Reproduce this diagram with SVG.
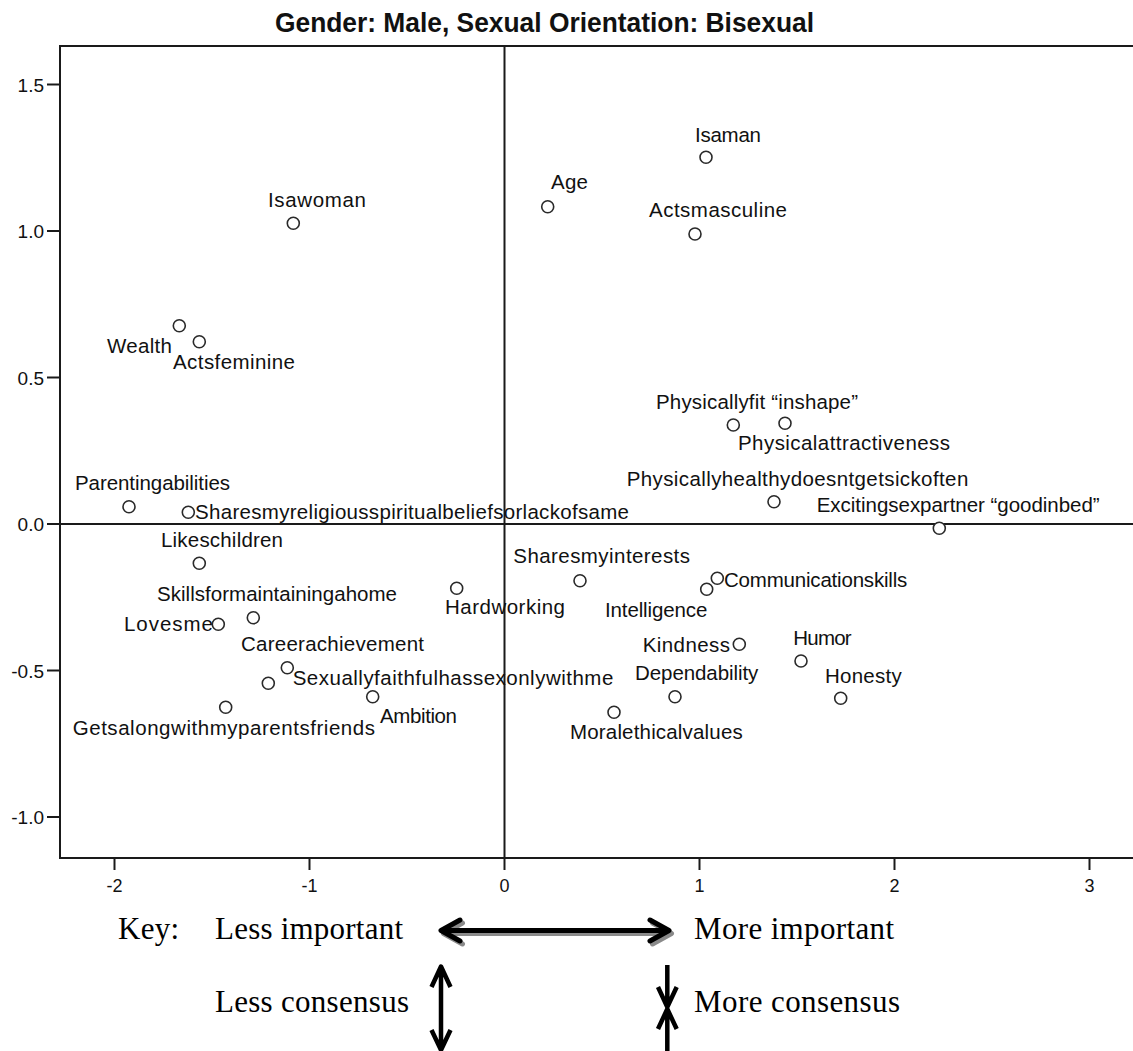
<svg xmlns="http://www.w3.org/2000/svg" width="1133" height="1051" viewBox="0 0 1133 1051">
<style>
.bg{fill:#ffffff}
.ax{stroke:#1a1a1a;stroke-width:2;fill:none}
.tk{stroke:#1a1a1a;stroke-width:2}
.pt{fill:#ffffff;stroke:#2a2a2a;stroke-width:1.6}
.lbl{font-family:"Liberation Sans",Arial,sans-serif;font-size:20.5px;fill:#111111}
.yl{font-family:"Liberation Sans",Arial,sans-serif;font-size:19px;fill:#111111;text-anchor:end}
.xl{font-family:"Liberation Sans",Arial,sans-serif;font-size:18px;fill:#111111;text-anchor:middle}
.ttl{font-family:"Liberation Sans",Arial,sans-serif;font-size:27px;font-weight:bold;fill:#111111}
.key{font-family:"Liberation Serif","Times New Roman",serif;font-size:31px;fill:#000000}
.arr{fill:none;stroke:#000000;stroke-width:5;stroke-linecap:round;stroke-linejoin:round}
.shd{fill:none;stroke:#8a8a8a;stroke-width:5;stroke-linecap:round;stroke-linejoin:round}
.varr{fill:none;stroke:#000000;stroke-width:4.5;stroke-linecap:butt;stroke-linejoin:round}
</style>
<defs>
<path id="harrow" d="M442,930.5 L668,930.5 M460,920 L441,930.5 L460,941 M650,920 L669,930.5 L650,941"/>
</defs>
<rect class="bg" x="0" y="0" width="1133" height="1051"/>
<text class="ttl" x="275" y="32" textLength="539" lengthAdjust="spacingAndGlyphs">Gender: Male, Sexual Orientation: Bisexual</text>
<g id="axes">
<path class="ax" d="M1140,46 L60,46 L60,858 L1140,858"/>
<line class="ax" x1="504.5" y1="46" x2="504.5" y2="858"/>
<line class="ax" x1="60" y1="524" x2="1140" y2="524"/>
<g class="tk">
<line x1="47" y1="84.5" x2="60" y2="84.5"/>
<line x1="47" y1="231" x2="60" y2="231"/>
<line x1="47" y1="377.5" x2="60" y2="377.5"/>
<line x1="47" y1="524" x2="60" y2="524"/>
<line x1="47" y1="670.5" x2="60" y2="670.5"/>
<line x1="47" y1="817" x2="60" y2="817"/>
<line x1="114.5" y1="858" x2="114.5" y2="870"/>
<line x1="309.5" y1="858" x2="309.5" y2="870"/>
<line x1="504.5" y1="858" x2="504.5" y2="870"/>
<line x1="699.5" y1="858" x2="699.5" y2="870"/>
<line x1="894.5" y1="858" x2="894.5" y2="870"/>
<line x1="1089.5" y1="858" x2="1089.5" y2="870"/>
</g>
<text class="yl" x="44" y="91.5">1.5</text>
<text class="yl" x="44" y="238">1.0</text>
<text class="yl" x="44" y="384.5">0.5</text>
<text class="yl" x="44" y="531">0.0</text>
<text class="yl" x="44" y="677.5">-0.5</text>
<text class="yl" x="44" y="824">-1.0</text>
<text class="xl" x="114.5" y="892">-2</text>
<text class="xl" x="309.5" y="892">-1</text>
<text class="xl" x="504.5" y="892">0</text>
<text class="xl" x="699.5" y="892">1</text>
<text class="xl" x="894.5" y="892">2</text>
<text class="xl" x="1089.5" y="892">3</text>
</g>
<g id="connectors"></g>
<g id="n-isaman"><circle class="pt" cx="706" cy="157.3" r="6"/><text class="lbl" x="695" y="141.7" textLength="66">Isaman</text></g>
<g id="n-age"><circle class="pt" cx="547.7" cy="206.7" r="6"/><text class="lbl" x="551" y="189.3" textLength="37">Age</text></g>
<g id="n-actsmasculine"><circle class="pt" cx="695" cy="234" r="6"/><text class="lbl" x="649" y="216.7" textLength="138">Actsmasculine</text></g>
<g id="n-isawoman"><circle class="pt" cx="293.3" cy="223.3" r="6"/><text class="lbl" x="268" y="206.7" textLength="98">Isawoman</text></g>
<g id="n-wealth"><circle class="pt" cx="179.3" cy="325.7" r="6"/><text class="lbl" x="107" y="353" textLength="65">Wealth</text></g>
<g id="n-actsfeminine"><circle class="pt" cx="199.3" cy="341.7" r="6"/><text class="lbl" x="173" y="369" textLength="122">Actsfeminine</text></g>
<g id="n-physicallyfit"><circle class="pt" cx="733.3" cy="425" r="6"/><text class="lbl" x="656" y="409.3" textLength="202">Physicallyfit “inshape”</text></g>
<g id="n-physicalattractiveness"><circle class="pt" cx="785" cy="423.3" r="6"/><text class="lbl" x="738" y="450" textLength="212">Physicalattractiveness</text></g>
<g id="n-physicallyhealthy"><circle class="pt" cx="774" cy="501.7" r="6"/><text class="lbl" x="626.7" y="486" textLength="341.6">Physicallyhealthydoesntgetsickoften</text></g>
<g id="n-excitingsexpartner"><circle class="pt" cx="939.3" cy="528.3" r="6"/><text class="lbl" x="816.7" y="511.7" textLength="283">Excitingsexpartner “goodinbed”</text></g>
<g id="n-parentingabilities"><circle class="pt" cx="129" cy="506.7" r="6"/><text class="lbl" x="75" y="490" textLength="155">Parentingabilities</text></g>
<g id="n-religious"><circle class="pt" cx="188.3" cy="512.3" r="6"/><text class="lbl" x="195" y="519" textLength="434">Sharesmyreligiousspiritualbeliefsorlackofsame</text></g>
<g id="n-likeschildren"><circle class="pt" cx="199.3" cy="563.3" r="6"/><text class="lbl" x="161" y="547" textLength="122">Likeschildren</text></g>
<g id="n-sharesmyinterests"><circle class="pt" cx="580" cy="580.7" r="6"/><text class="lbl" x="513.3" y="563.3" textLength="176.7">Sharesmyinterests</text></g>
<g id="n-communicationskills"><circle class="pt" cx="717.3" cy="578.3" r="6"/><text class="lbl" x="724" y="586.7" textLength="183.3">Communicationskills</text></g>
<g id="n-intelligence"><circle class="pt" cx="706.7" cy="589.3" r="6"/><text class="lbl" x="605" y="616.7" textLength="102.3">Intelligence</text></g>
<g id="n-hardworking"><circle class="pt" cx="456.7" cy="588.3" r="6"/><text class="lbl" x="445" y="614" textLength="120">Hardworking</text></g>
<g id="n-skillshome"><circle class="pt" cx="253.3" cy="617.7" r="6"/><text class="lbl" x="157" y="601" textLength="240">Skillsformaintainingahome</text></g>
<g id="n-lovesme"><circle class="pt" cx="218.3" cy="624.3" r="6"/><text class="lbl" x="124" y="631" textLength="89">Lovesme</text></g>
<g id="n-careerachievement"><circle class="pt" cx="268.3" cy="683.3" r="6"/><text class="lbl" x="241" y="650.7" textLength="183">Careerachievement</text></g>
<g id="n-sexuallyfaithful"><circle class="pt" cx="287.3" cy="667.7" r="6"/><text class="lbl" x="292.7" y="685" textLength="320.6">Sexuallyfaithfulhassexonlywithme</text></g>
<g id="n-getsalong"><circle class="pt" cx="225.7" cy="707.3" r="6"/><text class="lbl" x="72.7" y="735" textLength="302.3">Getsalongwithmyparentsfriends</text></g>
<g id="n-ambition"><circle class="pt" cx="372.7" cy="696.7" r="6"/><text class="lbl" x="380" y="723" textLength="77">Ambition</text></g>
<g id="n-kindness"><circle class="pt" cx="739.3" cy="644.3" r="6"/><text class="lbl" x="642.7" y="651.7" textLength="87.3">Kindness</text></g>
<g id="n-humor"><circle class="pt" cx="801" cy="661" r="6"/><text class="lbl" x="793.3" y="645" textLength="58.4">Humor</text></g>
<g id="n-dependability"><circle class="pt" cx="675" cy="696.7" r="6"/><text class="lbl" x="635" y="680" textLength="123.3">Dependability</text></g>
<g id="n-honesty"><circle class="pt" cx="840.7" cy="698.3" r="6"/><text class="lbl" x="825" y="683.3" textLength="76.7">Honesty</text></g>
<g id="n-moralethical"><circle class="pt" cx="614" cy="712.3" r="6"/><text class="lbl" x="570" y="739" textLength="172.7">Moralethicalvalues</text></g>
<g id="key">
<text class="key" x="118" y="939" textLength="61">Key:</text>
<text class="key" x="215" y="939" textLength="188">Less important</text>
<text class="key" x="694" y="939" textLength="200">More important</text>
<text class="key" x="215" y="1012" textLength="194">Less consensus</text>
<text class="key" x="694" y="1012" textLength="206">More consensus</text>
<use href="#harrow" class="shd" transform="translate(2.5,3)"/>
<use href="#harrow" class="arr"/>
<path class="varr" d="M441,968 L441,1048 M431.5,987 L441,966.5 L450.5,987 M431.5,1030 L441,1050 L450.5,1030"/>
<path class="varr" d="M667.3,965 L667.3,1005 M658,987 L667.3,1007 L676.7,987 M667.3,1051 L667.3,1011 M658,1029 L667.3,1009 L676.7,1029"/>
</g>
</svg>
